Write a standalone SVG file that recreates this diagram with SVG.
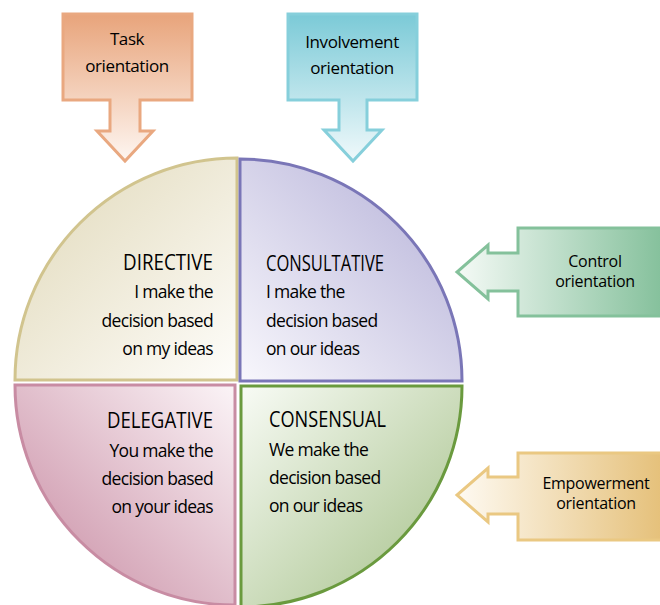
<svg xmlns="http://www.w3.org/2000/svg" width="660" height="605" viewBox="0 0 660 605">
  <defs>
    <linearGradient id="gDir" x1="0" y1="0" x2="1" y2="1">
      <stop offset="0" stop-color="#e0d8b8"/>
      <stop offset="1" stop-color="#fefdfa"/>
    </linearGradient>
    <linearGradient id="gCon" x1="1" y1="0" x2="0" y2="1">
      <stop offset="0" stop-color="#b3afd7"/>
      <stop offset="1" stop-color="#f8f7fc"/>
    </linearGradient>
    <linearGradient id="gDel" x1="1" y1="0" x2="0" y2="1">
      <stop offset="0" stop-color="#fbf4f7"/>
      <stop offset="1" stop-color="#c6879f"/>
    </linearGradient>
    <linearGradient id="gSen" x1="0" y1="0" x2="1" y2="1">
      <stop offset="0" stop-color="#f8fbf5"/>
      <stop offset="1" stop-color="#a3bf86"/>
    </linearGradient>
    <linearGradient id="gTask" x1="0" y1="0" x2="0" y2="1">
      <stop offset="0" stop-color="#e8a47b"/>
      <stop offset="1" stop-color="#fef6f1"/>
    </linearGradient>
    <linearGradient id="gInv" x1="0" y1="0" x2="0" y2="1">
      <stop offset="0" stop-color="#7bcad7"/>
      <stop offset="1" stop-color="#f0f9fb"/>
    </linearGradient>
    <linearGradient id="gCtl" x1="1" y1="0" x2="0" y2="0">
      <stop offset="0" stop-color="#84c09b"/>
      <stop offset="1" stop-color="#f5faf6"/>
    </linearGradient>
    <linearGradient id="gEmp" x1="1" y1="0" x2="0" y2="0">
      <stop offset="0" stop-color="#e5c079"/>
      <stop offset="1" stop-color="#fefaf2"/>
    </linearGradient>
  </defs>
  <style>
    .q { stroke-width: 3; stroke-linejoin: miter; }
    .arr { stroke-width: 3; stroke-linejoin: miter; }
    text { font-family: "Open Sans", "Liberation Sans", sans-serif; fill: #000; }
    .h { font-size: 22px; }
    .b { font-size: 17.5px; letter-spacing: -0.7px; }
    .a { font-size: 17px; letter-spacing: -0.4px; text-anchor: middle; }
    .s { font-size: 16px; letter-spacing: -0.3px; text-anchor: middle; }
    .end { text-anchor: end; }
  </style>

  <g id="directive">
    <path class="q" d="M237,380 V158 A222,222 0 0 0 15,380 Z" fill="url(#gDir)" stroke="#d1c48e"/>
    <text class="h end" x="213" y="270" textLength="90" lengthAdjust="spacingAndGlyphs">DIRECTIVE</text>
    <text class="b end" x="213" y="298">I make the</text>
    <text class="b end" x="213" y="327">decision based</text>
    <text class="b end" x="213" y="355">on my ideas</text>
  </g>

  <g id="consultative">
    <path class="q" d="M240,381 V159 A222,222 0 0 1 462,381 Z" fill="url(#gCon)" stroke="#7a76b7"/>
    <text class="h" x="266" y="271" textLength="118" lengthAdjust="spacingAndGlyphs">CONSULTATIVE</text>
    <text class="b" x="266" y="298">I make the</text>
    <text class="b" x="266" y="327">decision based</text>
    <text class="b" x="266" y="355">on our ideas</text>
  </g>

  <g id="delegative">
    <path class="q" d="M235,385 H15 A220,220 0 0 0 235,605 Z" fill="url(#gDel)" stroke="#c88ca3"/>
    <text class="h end" x="213" y="428" textLength="106" lengthAdjust="spacingAndGlyphs">DELEGATIVE</text>
    <text class="b end" x="213" y="457">You make the</text>
    <text class="b end" x="213" y="485">decision based</text>
    <text class="b end" x="213" y="513">on your ideas</text>
  </g>

  <g id="consensual">
    <path class="q" d="M241,386 H462 A221,221 0 0 1 241,607 Z" fill="url(#gSen)" stroke="#6a9a3e"/>
    <text class="h" x="269" y="427" textLength="117" lengthAdjust="spacingAndGlyphs">CONSENSUAL</text>
    <text class="b" x="269" y="456">We make the</text>
    <text class="b" x="269" y="484">decision based</text>
    <text class="b" x="269" y="512">on our ideas</text>
  </g>

  <g id="connectors">
    <g id="task">
      <path class="arr" d="M63,14 H192 V100 H140 V131 H153 L125,161 L97,131 H110 V100 H63 Z" fill="url(#gTask)" stroke="#e9a880"/>
      <text class="a" x="127" y="45">Task</text>
      <text class="a" x="127" y="72">orientation</text>
    </g>
    <g id="involvement">
      <path class="arr" d="M288,14 H417 V100 H367 V130 H382 L353,161 L324,130 H339 V100 H288 Z" fill="url(#gInv)" stroke="#86cfdb"/>
      <text class="a" x="352" y="48">Involvement</text>
      <text class="a" x="352" y="74">orientation</text>
    </g>
    <g id="control">
      <path class="arr" d="M664,228 H518 V253 H488 V245 L457,272 L488,299 V291 H518 V316 H664" fill="url(#gCtl)" stroke="#84c19b"/>
      <text class="s" x="595" y="267">Control</text>
      <text class="s" x="595" y="287">orientation</text>
    </g>
    <g id="empowerment">
      <path class="arr" d="M664,453 H518 V477 H488 V468 L457,495 L488,522 V514 H518 V540 H664" fill="url(#gEmp)" stroke="#eac882"/>
      <text class="s" x="596" y="489">Empowerment</text>
      <text class="s" x="596" y="509">orientation</text>
    </g>
  </g>
</svg>
